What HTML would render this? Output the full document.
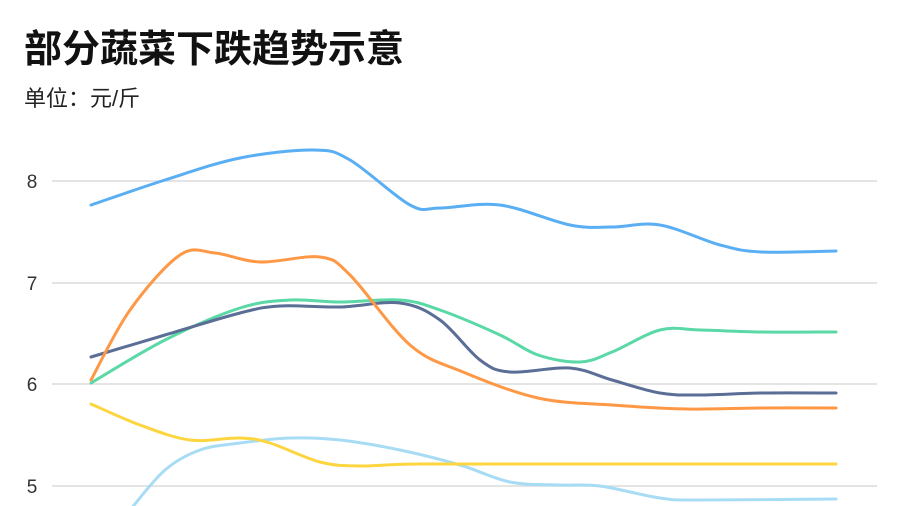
<!DOCTYPE html>
<html><head><meta charset="utf-8"><style>
html,body{margin:0;padding:0;background:#fff;width:900px;height:506px;overflow:hidden}
svg{display:block}
</style></head><body>
<svg id="s" width="900" height="506" xmlns="http://www.w3.org/2000/svg" font-family="'Liberation Sans','Noto Sans CJK SC',sans-serif">
<text x="24" y="62" font-size="38" font-weight="bold" fill="#111">部分蔬菜下跌趋势示意</text>
<text x="24" y="106" font-size="22" fill="#222">单位：元/斤</text>
<g stroke="#dcdcdc" stroke-width="1.5">
<line x1="52" x2="877" y1="181" y2="181"/><line x1="52" x2="877" y1="283" y2="283"/>
<line x1="52" x2="877" y1="384" y2="384"/><line x1="52" x2="877" y1="486" y2="486"/>
</g>
<g font-size="19" fill="#333" text-anchor="middle">
<text x="32" y="188">8</text><text x="32" y="290">7</text><text x="32" y="391">6</text><text x="32" y="493">5</text>
</g>
<g id="lines" fill="none" stroke-width="3" stroke-linecap="round"></g>
</svg>
<script>
var series=[
["#a8dcf5",[[130,510],[165,470],[200,450],[240,443],[290,438],[340,440],[400,450],[460,465],[510,482],[560,485],[600,486],[660,498],[700,500],[836,499]]],
["#fcd53f",[[91,404],[140,425],[190,440],[240,438],[270,443],[320,462],[360,466],[420,464],[600,464],[836,464]]],
["#5ad8a6",[[91,383],[165,340],[240,308],[290,300],[340,302],[400,300],[440,310],[500,335],[538,355],[580,362],[612,352],[660,330],[700,330],[761,332],[836,332]]],
["#5b6e96",[[91,357],[165,335],[240,313],[280,306],[340,307],[400,303],[440,320],[480,360],[510,372],[570,368],[612,380],[660,393],[700,395],[761,393],[836,393]]],
["#ff9845",[[91,380],[130,310],[180,255],[215,253],[260,262],[320,257],[350,275],[410,345],[463,372],[538,398],[612,405],[687,409],[761,408],[836,408]]],
["#5aaef3",[[91,205],[165,180],[240,158],[314,150],[350,160],[410,205],[440,208],[500,205],[570,225],[612,227],[660,225],[720,245],[761,252],[836,251]]]
];
var g=document.getElementById('lines');
series.forEach(function(s){
 var p=s[1],d="M"+p[0][0]+","+p[0][1];
 for(var i=0;i<p.length-1;i++){
  var p0=p[i-1]||p[i],p1=p[i],p2=p[i+1],p3=p[i+2]||p2,t=6;
  var c1=[p1[0]+(p2[0]-p0[0])/t,p1[1]+(p2[1]-p0[1])/t];
  var c2=[p2[0]-(p3[0]-p1[0])/t,p2[1]-(p3[1]-p1[1])/t];
  d+=" C"+c1[0]+","+c1[1]+" "+c2[0]+","+c2[1]+" "+p2[0]+","+p2[1];
 }
 var e=document.createElementNS("http://www.w3.org/2000/svg","path");
 e.setAttribute("d",d);e.setAttribute("stroke",s[0]);g.appendChild(e);
});
</script>
</body></html>
